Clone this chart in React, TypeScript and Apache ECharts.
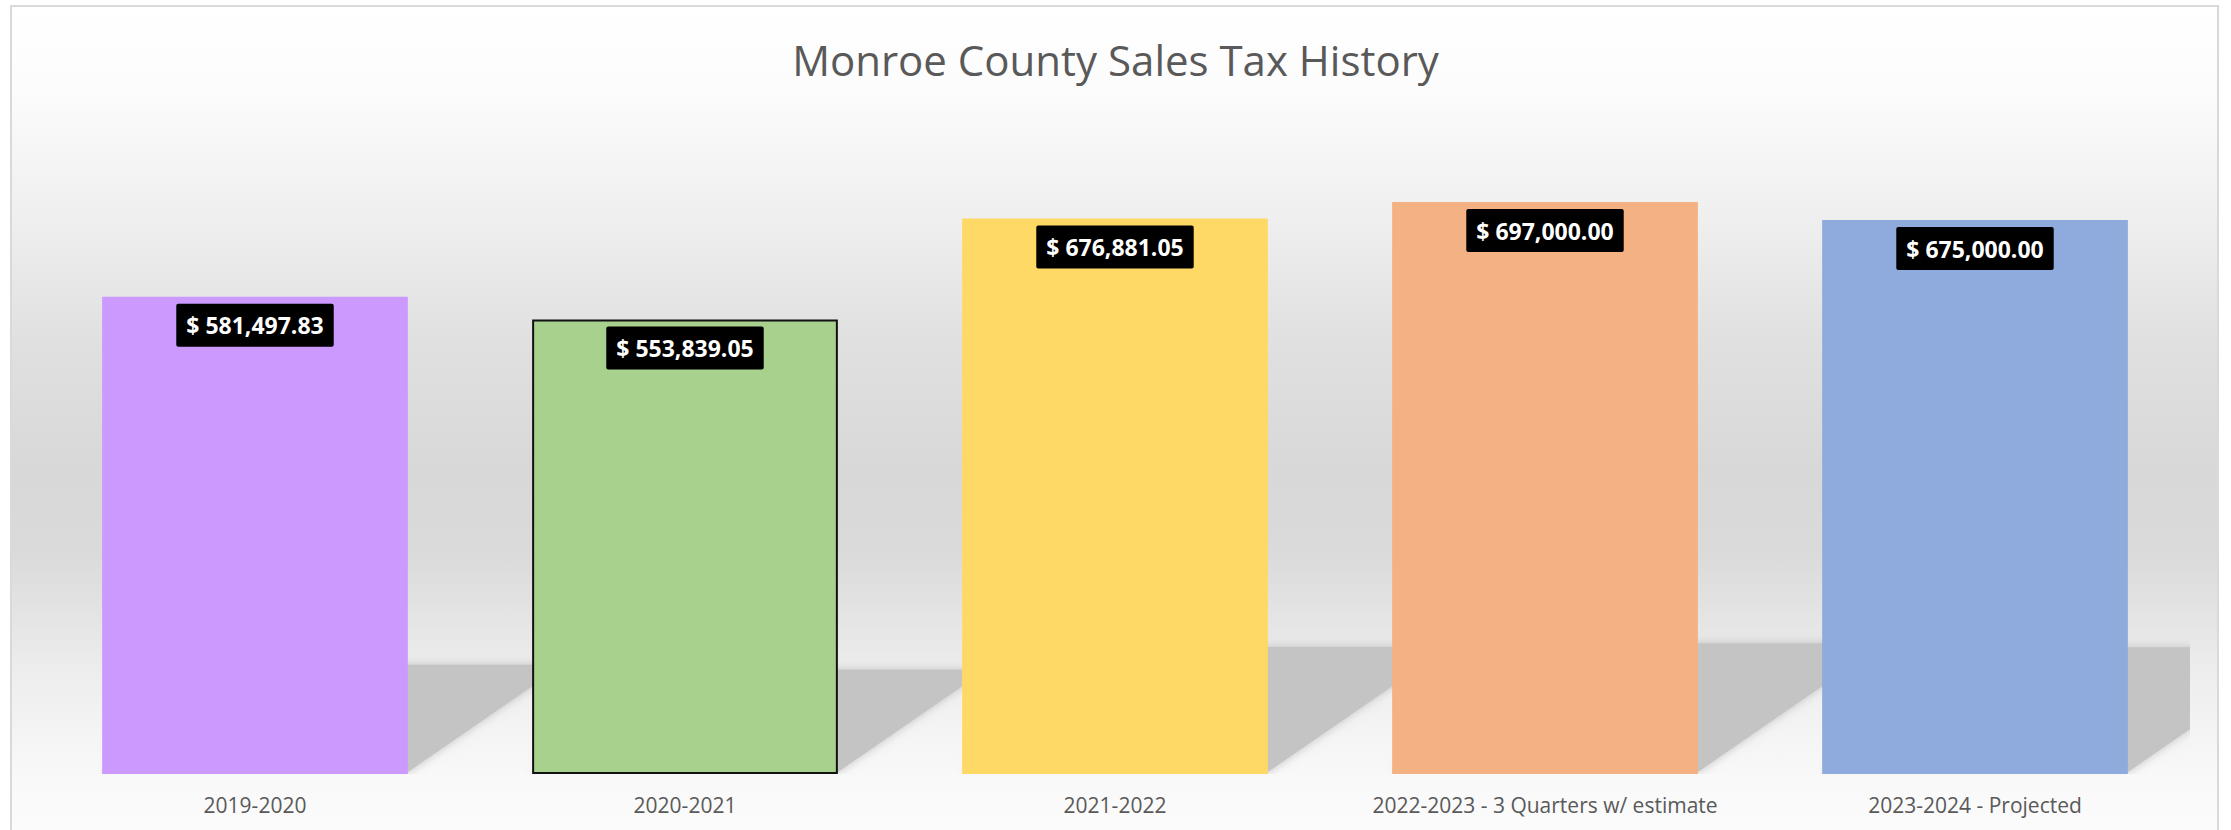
import React, { useEffect, useRef } from "react";
import * as echarts from "echarts";

const titleText = "Monroe County Sales Tax History";
const categories = [
  "2019-2020",
  "2020-2021",
  "2021-2022",
  "2022-2023 - 3 Quarters w/ estimate",
  "2023-2024 - Projected",
];
const salesTax = [581497.83, 553839.05, 676881.05, 697000.0, 675000.0];
const barColors = ["#CC99FF", "#A9D18E", "#FFD966", "#F4B183", "#8FAADC"];
const barBorders = [0, 2, 0, 0, 0];

const fmt = (v: number) =>
  "$ " +
  v.toLocaleString("en-US", { minimumFractionDigits: 2, maximumFractionDigits: 2 });

export default function App() {
  const ref = useRef<HTMLDivElement>(null);
  useEffect(() => {
    const chart = echarts.init(ref.current!, null, { renderer: "svg" });
    const barFrac = 0.711;
    chart.setOption({
      animation: false,
      backgroundColor: "#ffffff",
      graphic: [
        {
          type: "rect",
          z: -10,
          silent: true,
          shape: { x: 11, y: 6, width: 2207, height: 840 },
          style: {
            fill: new echarts.graphic.LinearGradient(0, 0, 0, 1, [
              { offset: 0, color: "#ffffff" },
              { offset: 0.1, color: "#fcfcfc" },
              { offset: 0.25, color: "#efefef" },
              { offset: 0.4, color: "#e0e0e0" },
              { offset: 0.55, color: "#d8d8d8" },
              { offset: 0.65, color: "#dadada" },
              { offset: 0.74, color: "#e6e6e6" },
              { offset: 0.79, color: "#ededed" },
              { offset: 0.92, color: "#f9f9f9" },
              { offset: 1, color: "#fcfcfc" },
            ]),
            stroke: "#d9d9d9",
            lineWidth: 2,
          },
        },
      ],
      title: {
        text: titleText,
        left: "center",
        top: 33,
        textStyle: {
          fontFamily: "Open Sans",
          fontWeight: "normal",
          fontSize: 42,
          color: "#595959",
        },
      },
      grid: { left: 40, right: 41, top: 117.5, bottom: 56, containLabel: false },
      xAxis: {
        type: "category",
        data: categories,
        axisLine: { show: false },
        axisTick: { show: false },
        axisLabel: {
          interval: 0,
          color: "#595959",
          fontSize: 21,
          margin: 20,
          fontFamily: "Open Sans",
        },
      },
      yAxis: {
        type: "value",
        min: 0,
        max: 800000,
        show: false,
        splitLine: { show: false },
      },
      series: [
        {
          type: "custom",
          z: 1,
          clip: true,
          silent: true,
          data: salesTax.map((v, i) => [i, v]),
          encode: { x: 0, y: 1 },
          renderItem: (params: any, api: any) => {
            const i = api.value(0);
            const v = api.value(1);
            const base = api.coord([i, 0]);
            const top = api.coord([i, v]);
            const bw = api.size([1, 0])[0] * barFrac;
            const h = (base[1] - top[1]) * 0.225;
            const dx = h * 1.45;
            const x0 = base[0] - bw / 2;
            const x1 = base[0] + bw / 2;
            const y0 = base[1] - 2;
            return {
              type: "polygon",
              shape: {
                points: [
                  [x0, y0],
                  [x1, y0],
                  [x1 + dx, y0 - h],
                  [x0 + dx, y0 - h],
                ],
              },
              style: {
                fill: "#c4c4c4",
                shadowBlur: 10,
                shadowColor: "rgba(190,190,190,0.9)",
              },
            };
          },
        },
        {
          type: "bar",
          z: 2,
          barCategoryGap: "28.9%",
          data: salesTax.map((v, i) => ({
            value: v,
            itemStyle: {
              color: barColors[i],
              borderColor: "#111111",
              borderWidth: barBorders[i],
            },
          })),
          label: {
            show: true,
            position: "insideTop",
            distance: 7,
            formatter: (p: any) => fmt(p.value),
            color: "#ffffff",
            fontWeight: "bold",
            fontSize: 23,
            lineHeight: 27,
            fontFamily: "Open Sans",
            backgroundColor: "#000000",
            padding: [8, 10, 8, 10],
            borderRadius: 2,
          },
        },
      ],
    });
    return () => chart.dispose();
  }, []);
  return (
    <div
      ref={ref}
      style={{ position: "absolute", left: 0, top: 0, width: 2231, height: 830 }}
    />
  );
}
